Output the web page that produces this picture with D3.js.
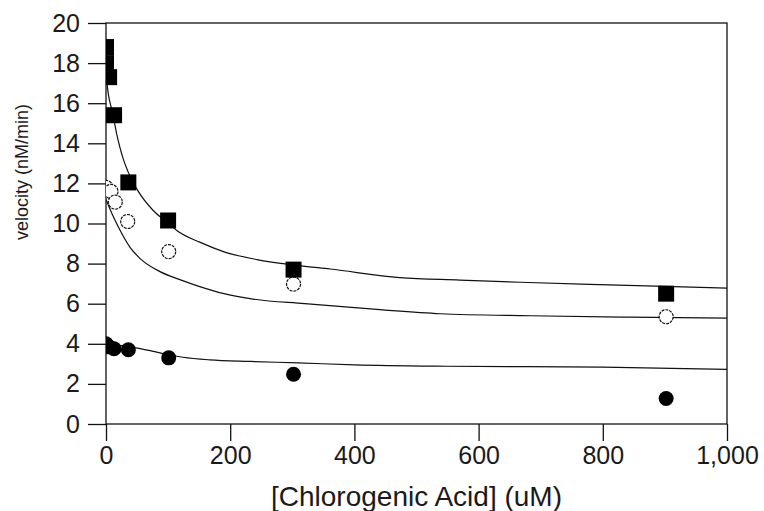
<!DOCTYPE html>
<html>
<head>
<meta charset="utf-8">
<script src="https://cdn.jsdelivr.net/npm/d3@7"></script>
<style>
  body { margin: 0; background: #fff; }
  svg text { font-family: "Liberation Sans", Arial, sans-serif; fill: #1a1a1a; }
</style>
</head>
<body>
<div id="container"></div>
<script>
/* CONSTANTS AND GLOBALS */
const width = 764,
  height = 511,
  margin = { top: 23, bottom: 87, left: 106, right: 37 };

// DATA
// filled squares
const squareX = [0, 0, 5, 13, 36, 100, 302, 902];
const squareY = [18.8, 18.0, 17.3, 15.4, 12.05, 10.15, 7.7, 6.5];
// open circles
const openX = [0, 8, 15, 35, 101, 302, 902];
const openY = [11.8, 11.6, 11.07, 10.1, 8.6, 6.98, 5.35];
// filled circles
const dotX = [0, 5, 13, 36, 101, 302, 902];
const dotY = [4.0, 3.85, 3.75, 3.7, 3.3, 2.48, 1.27];

// fitted curves
const fitSquareX = [0, 4, 10, 17, 28, 36, 52, 76, 101, 114, 151, 189, 243, 312, 361, 473, 570, 667, 795, 900, 1000];
const fitSquareY = [17.4, 16.4, 15.6, 14.5, 13.2, 12.55, 11.6, 10.65, 10.0, 9.65, 9.07, 8.6, 8.2, 7.9, 7.73, 7.3, 7.18, 7.07, 6.95, 6.86, 6.78];
const fitOpenX = [0, 6, 14, 22, 39, 55, 87, 119, 151, 190, 232, 320, 441, 538, 683, 844, 1000];
const fitOpenY = [11.2, 10.75, 10.2, 9.7, 8.8, 8.25, 7.6, 7.2, 6.85, 6.5, 6.25, 6.0, 5.7, 5.5, 5.4, 5.33, 5.28];
const fitDotX = [0, 12, 30, 57, 87, 124, 167, 232, 309, 400, 550, 800, 1000];
const fitDotY = [4.12, 3.98, 3.88, 3.75, 3.55, 3.33, 3.2, 3.12, 3.05, 2.95, 2.88, 2.84, 2.72];

const xTicks = [0, 200, 400, 600, 800, 1000];
const yTicks = [0, 2, 4, 6, 8, 10, 12, 14, 16, 18, 20];

// APPEND SVG
const svg = d3.select("#container")
  .append("svg")
  .attr("width", width)
  .attr("height", height);

// SCALES
const xScale = d3.scaleLinear()
  .domain([0, 1000])
  .range([margin.left, width - margin.right]);

const yScale = d3.scaleLinear()
  .domain([0, 20])
  .range([height - margin.bottom, margin.top]);

svg.append("defs").append("clipPath")
  .attr("id", "plot-clip")
  .append("rect")
  .attr("x", margin.left)
  .attr("y", margin.top)
  .attr("width", width - margin.left - margin.right)
  .attr("height", height - margin.top - margin.bottom);

// AXES
const xAxis = d3.axisBottom(xScale)
  .tickValues(xTicks)
  .tickSize(17)
  .tickPadding(5)
  .tickFormat(d3.format(","));

const yAxis = d3.axisLeft(yScale)
  .tickValues(yTicks)
  .tickSize(18)
  .tickPadding(8);

svg.append("g")
  .attr("class", "x-axis")
  .attr("transform", `translate(0, ${height - margin.bottom})`)
  .call(xAxis)
  .call(g => g.select(".domain").remove());

svg.append("g")
  .attr("class", "y-axis")
  .attr("transform", `translate(${margin.left}, 0)`)
  .call(yAxis)
  .call(g => g.select(".domain").remove());

svg.selectAll(".tick line").attr("stroke", "#111").attr("stroke-width", 1.3);
svg.selectAll(".tick text")
  .attr("font-size", 25)
  .attr("font-family", "Liberation Sans, Arial, sans-serif")
  .attr("fill", "#1a1a1a");

// FRAME
svg.append("rect")
  .attr("x", margin.left)
  .attr("y", margin.top)
  .attr("width", width - margin.left - margin.right)
  .attr("height", height - margin.top - margin.bottom)
  .attr("fill", "none")
  .attr("stroke", "#111")
  .attr("stroke-width", 1.3);

// AXIS TITLES
svg.append("text")
  .attr("x", (margin.left + width - margin.right) / 2)
  .attr("y", 506)
  .attr("text-anchor", "middle")
  .attr("font-size", 28)
  .text("[Chlorogenic Acid] (uM)");

svg.append("text")
  .attr("transform", "translate(28, 172) rotate(-90)")
  .attr("text-anchor", "middle")
  .attr("font-size", 18)
  .text("velocity (nM/min)");

// CURVES
const plot = svg.append("g").attr("clip-path", "url(#plot-clip)");

const lineGen = d3.line()
  .x(d => xScale(d[0]))
  .y(d => yScale(d[1]))
  .curve(d3.curveMonotoneX);

const curves = [
  d3.zip(fitSquareX, fitSquareY),
  d3.zip(fitOpenX, fitOpenY),
  d3.zip(fitDotX, fitDotY)
];

plot.selectAll("path.fit")
  .data(curves)
  .join("path")
  .attr("class", "fit")
  .attr("d", d => lineGen(d))
  .attr("fill", "none")
  .attr("stroke", "#111")
  .attr("stroke-width", 1.2);

// POINTS
plot.selectAll("circle.dot")
  .data(d3.zip(dotX, dotY))
  .join("circle")
  .attr("class", "dot")
  .attr("cx", d => xScale(d[0]))
  .attr("cy", d => yScale(d[1]))
  .attr("r", 7.5)
  .attr("fill", "#000");

plot.selectAll("circle.open")
  .data(d3.zip(openX, openY))
  .join("circle")
  .attr("class", "open")
  .attr("cx", d => xScale(d[0]))
  .attr("cy", d => yScale(d[1]))
  .attr("r", 7)
  .attr("fill", "#fff")
  .attr("stroke", "#111")
  .attr("stroke-width", 1.2)
  .attr("stroke-dasharray", "3,1");

const sq = 16;
plot.selectAll("rect.square")
  .data(d3.zip(squareX, squareY))
  .join("rect")
  .attr("class", "square")
  .attr("x", d => xScale(d[0]) - sq / 2)
  .attr("y", d => yScale(d[1]) - sq / 2)
  .attr("width", sq)
  .attr("height", sq)
  .attr("fill", "#000");
</script>
</body>
</html>
